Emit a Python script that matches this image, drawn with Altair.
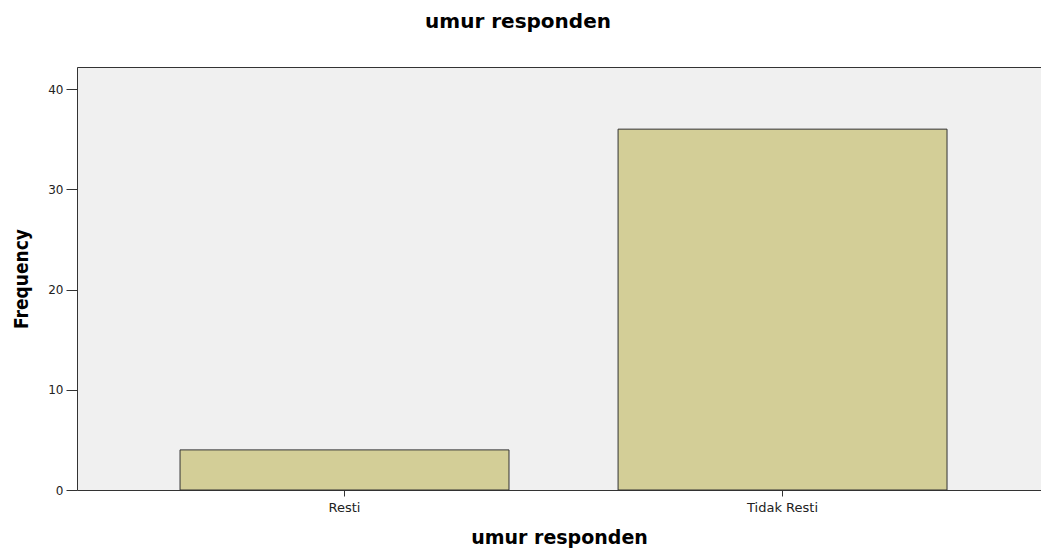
import altair as alt
import pandas as pd

categories = ["Resti", "Tidak Resti"]
frequencies = [4, 36]
y_ticks = [0, 10, 20, 30, 40]

df = pd.DataFrame({"umur": categories, "freq": frequencies})

x_scale = alt.Scale(paddingInner=0.249, paddingOuter=0.2249, align=0.523)

bars = alt.Chart(df).mark_bar(
    color="#d3ce97", stroke="#333333", strokeWidth=1
).encode(
    x=alt.X(
        "umur:N",
        sort=categories,
        scale=x_scale,
        axis=alt.Axis(
            title="umur responden",
            orient="bottom",
            labelAngle=0,
            labelFont="DejaVu Sans",
            labelFontSize=13,
            labelColor="#222222",
            labelPadding=5,
            tickSize=6,
            tickColor="#333333",
            domainColor="#333333",
            titleFont="DejaVu Sans",
            titleFontSize=19,
            titleFontWeight="bold",
            titleColor="#000000",
            titlePadding=14,
        ),
    ),
    y=alt.Y(
        "freq:Q",
        scale=alt.Scale(domain=[0, 42.2], nice=False, zero=True),
        axis=alt.Axis(
            title="Frequency",
            values=y_ticks,
            grid=False,
            labelFont="DejaVu Sans",
            labelFontSize=12,
            labelColor="#222222",
            labelPadding=3,
            tickSize=11,
            tickColor="#333333",
            domainColor="#333333",
            titleFont="Liberation Sans Narrow, DejaVu Sans Condensed, Liberation Sans, Arial, sans-serif",
            titleFontSize=19,
            titleFontWeight="bold",
            titleColor="#000000",
            titlePadding=16,
        ),
    ),
)

top_axis = alt.Chart(df).mark_bar(opacity=0).encode(
    x=alt.X(
        "umur:N",
        sort=categories,
        scale=x_scale,
        axis=alt.Axis(
            orient="top", title=None, labels=False, ticks=False,
            domainColor="#333333",
        ),
    ),
    y=alt.Y("freq:Q"),
)

chart = alt.layer(bars, top_axis).resolve_axis(x="independent").properties(
    width=964,
    height=423,
    title=alt.TitleParams(
        "umur responden",
        font="DejaVu Sans",
        fontSize=20,
        fontWeight="bold",
        color="#000000",
        anchor="middle",
        frame="group",
        dx=-41,
        offset=35,
    ),
    autosize=alt.AutoSizeParams(type="none"),
    padding={"left": 69, "top": 59, "right": 0, "bottom": 58},
).configure(background="#ffffff").configure_view(
    fill="#f0f0f0", stroke="#c8c8c8", strokeWidth=1
)

chart.save("out.html", embed_options={"renderer": "svg", "actions": False})
